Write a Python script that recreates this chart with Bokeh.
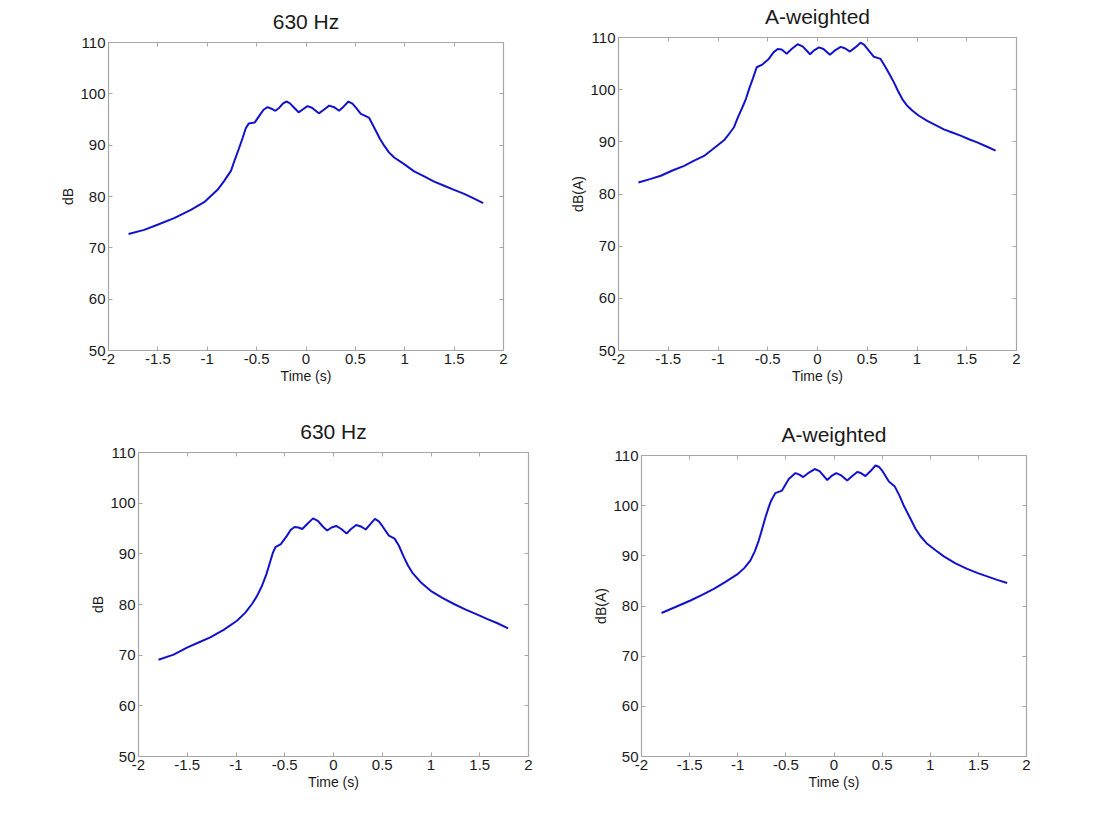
from bokeh.plotting import figure
from bokeh.layouts import column, row
from bokeh.models import LinearAxis, FixedTicker, Range1d
from bokeh.embed import file_html
from bokeh.resources import INLINE

# ---------------- data ----------------
x_ticks = [-2, -1.5, -1, -0.5, 0, 0.5, 1, 1.5, 2]
x_tick_labels = ["-2", "-1.5", "-1", "-0.5", "0", "0.5", "1", "1.5", "2"]
y_ticks = [50, 60, 70, 80, 90, 100, 110]
y_tick_labels = ["50", "60", "70", "80", "90", "100", "110"]

titles = ["630 Hz", "A-weighted", "630 Hz", "A-weighted"]
ylabels = ["dB", "dB(A)", "dB", "dB(A)"]
xlabel = "Time (s)"

# top-left: 630 Hz
t1 = [-1.797, -1.639, -1.504, -1.335, -1.166, -1.031, -0.896, -0.83, -0.76, -0.72,
      -0.68, -0.64, -0.61, -0.58, -0.52, -0.47, -0.43, -0.39, -0.35, -0.31, -0.27,
      -0.235, -0.2, -0.165, -0.12, -0.075, -0.03, 0.015, 0.06, 0.13, 0.18, 0.235,
      0.285, 0.335, 0.38, 0.43, 0.47, 0.51, 0.555, 0.6, 0.64, 0.707, 0.75, 0.792,
      0.84, 0.893, 0.994, 1.095, 1.197, 1.298, 1.399, 1.5, 1.602, 1.703, 1.794]
v1 = [72.7, 73.5, 74.5, 75.8, 77.4, 78.9, 81.3, 83.0, 85.0, 87.2,
      89.3, 91.5, 93.3, 94.2, 94.4, 95.8, 96.9, 97.4, 97.1, 96.7, 97.3,
      98.1, 98.5, 98.2, 97.3, 96.4, 97.0, 97.6, 97.3, 96.2, 96.9, 97.7,
      97.4, 96.7, 97.5, 98.5, 98.1, 97.2, 96.1, 95.7, 95.3, 92.8, 91.2, 89.9,
      88.6, 87.6, 86.3, 84.9, 83.9, 82.9, 82.1, 81.3, 80.5, 79.6, 78.7]

# top-right: A-weighted
t2 = [-1.8, -1.675, -1.575, -1.458, -1.34, -1.24, -1.14, -1.073, -1.006, -0.94,
      -0.89, -0.839, -0.8, -0.755, -0.72, -0.688, -0.648, -0.611, -0.555,
      -0.49, -0.44, -0.4, -0.36, -0.31, -0.26, -0.2, -0.15, -0.11, -0.075, -0.03,
      0.015, 0.06, 0.125, 0.18, 0.233, 0.28, 0.326, 0.38, 0.433, 0.47, 0.52, 0.567,
      0.634, 0.684, 0.728, 0.768, 0.808, 0.852, 0.902, 0.952, 1.019, 1.103, 1.187,
      1.27, 1.354, 1.438, 1.522, 1.605, 1.699, 1.79]
v2 = [82.2, 82.9, 83.5, 84.5, 85.4, 86.4, 87.3, 88.3, 89.3, 90.3,
      91.5, 92.8, 94.7, 96.6, 98.2, 100.1, 102.2, 104.3, 104.8,
      105.9, 107.2, 107.8, 107.7, 106.9, 107.8, 108.7, 108.3, 107.5, 106.8, 107.6,
      108.1, 107.8, 106.7, 107.6, 108.2, 107.9, 107.3, 108.1, 109.0, 108.6, 107.4, 106.3,
      105.9, 104.3, 102.8, 101.4, 99.8, 98.2, 96.9, 96.0, 95.0, 94.0, 93.2,
      92.4, 91.8, 91.2, 90.5, 89.9, 89.1, 88.3]

# bottom-left: 630 Hz
t3 = [-1.795, -1.64, -1.503, -1.384, -1.264, -1.127, -0.99, -0.904, -0.836, -0.784,
      -0.733, -0.688, -0.647, -0.62, -0.596, -0.54, -0.48, -0.44, -0.4,
      -0.36, -0.32, -0.27, -0.21, -0.16, -0.11, -0.065, -0.02, 0.027, 0.08, 0.134,
      0.18, 0.233, 0.28, 0.33, 0.38, 0.425, 0.465, 0.5, 0.568, 0.627, 0.671, 0.723,
      0.764, 0.808, 0.894, 0.997, 1.116, 1.236, 1.356, 1.476, 1.579, 1.682, 1.791]
v3 = [69.1, 70.1, 71.5, 72.5, 73.5, 75.0, 76.8, 78.4, 80.1, 81.7,
      83.7, 86.0, 88.6, 90.3, 91.3, 91.9, 93.5, 94.7, 95.3,
      95.2, 94.9, 95.9, 97.0, 96.5, 95.4, 94.6, 95.2, 95.5, 94.9, 94.0,
      94.9, 95.7, 95.4, 94.8, 95.9, 96.9, 96.4, 95.5, 93.6, 93.0, 91.6, 89.3,
      87.7, 86.3, 84.4, 82.7, 81.3, 80.1, 79.0, 78.0, 77.1, 76.3, 75.3]

# bottom-right: A-weighted
t4 = [-1.792, -1.647, -1.491, -1.37, -1.248, -1.127, -1.006, -0.93, -0.868, -0.823,
      -0.781, -0.746, -0.712, -0.68, -0.653, -0.61, -0.54, -0.47, -0.4,
      -0.36, -0.32, -0.26, -0.2, -0.15, -0.11, -0.07, -0.02, 0.023, 0.07, 0.137,
      0.19, 0.241, 0.28, 0.327, 0.38, 0.431, 0.47, 0.5, 0.57, 0.632, 0.68, 0.725,
      0.787, 0.847, 0.899, 0.968, 1.055, 1.141, 1.262, 1.384, 1.487, 1.591, 1.695, 1.799]
v4 = [78.6, 79.8, 81.1, 82.2, 83.4, 84.8, 86.3, 87.6, 89.1, 90.9,
      93.1, 95.4, 97.7, 99.6, 101.0, 102.5, 103.0, 105.3, 106.5,
      106.2, 105.7, 106.6, 107.3, 106.9, 106.0, 105.1, 106.0, 106.5, 106.1, 105.0,
      105.9, 106.7, 106.5, 105.9, 106.9, 108.0, 107.7, 107.0, 104.8, 103.8, 102.0, 100.0,
      97.7, 95.4, 93.9, 92.4, 91.1, 89.9, 88.5, 87.4, 86.6, 85.9, 85.2, 84.6]

# ---------------- styling ----------------
FONT = "Liberation Sans"
FRAME = "#a6a6a6"
TEXT = "#1a1a1a"
LINE = "#1212cc"


def make(title, ylabel, t, v, width, height, left, right, top, bottom):
    p = figure(width=width, height=height, x_range=Range1d(-2, 2), y_range=Range1d(50, 110),
               output_backend="svg", toolbar_location=None,
               min_border_left=left, min_border_right=right,
               min_border_top=top, min_border_bottom=bottom,
               x_axis_location=None, y_axis_location=None)
    try:
        p.frame_align = False
    except Exception:
        pass
    p.background_fill_color = "white"
    p.border_fill_color = "white"
    p.outline_line_color = FRAME
    p.outline_line_width = 1.2
    p.xgrid.visible = False
    p.ygrid.visible = False

    xo = {tk: lb for tk, lb in zip(x_ticks, x_tick_labels)}
    yo = {tk: lb for tk, lb in zip(y_ticks, y_tick_labels)}

    for loc in ["below", "left", "above", "right"]:
        ticks = x_ticks if loc in ("below", "above") else y_ticks
        ax = LinearAxis(ticker=FixedTicker(ticks=ticks))
        ax.axis_line_color = None
        ax.major_tick_line_color = FRAME
        ax.major_tick_in = 4
        ax.major_tick_out = 0
        ax.minor_tick_line_color = None
        if loc in ("below", "left"):
            ax.major_label_overrides = xo if loc == "below" else yo
            ax.major_label_text_font = FONT
            ax.major_label_text_font_size = "15px"
            ax.major_label_text_color = TEXT
            ax.major_label_standoff = 3
            ax.axis_label = xlabel if loc == "below" else ylabel
            ax.axis_label_text_font = FONT
            ax.axis_label_text_font_size = "14px"
            ax.axis_label_text_font_style = "normal"
            ax.axis_label_text_color = TEXT
            ax.axis_label_standoff = 1
        else:
            ax.major_label_overrides = {tk: "" for tk in ticks}
            ax.major_label_text_font_size = "1px"
            ax.major_label_standoff = 0
            if loc == "above":
                # the panel title, centred above the frame
                ax.axis_label = title
                ax.axis_label_text_font = FONT
                ax.axis_label_text_font_size = "21px"
                ax.axis_label_text_font_style = "normal"
                ax.axis_label_text_color = TEXT
                ax.axis_label_standoff = 10
        p.add_layout(ax, loc)

    p.line(t, v, line_color=LINE, line_width=2)
    return p


pA = make(titles[0], ylabels[0], t1, v1, 548, 408, 108, 45, 42, 58)
pB = make(titles[1], ylabels[1], t2, v2, 545, 408, 70, 77, 37, 58)
pC = make(titles[2], ylabels[2], t3, v3, 568, 390, 138, 40, 44, 42)
pD = make(titles[3], ylabels[3], t4, v4, 525, 390, 73, 67, 47, 42)

layout = column(row(pA, pB), row(pC, pD))
layout.spacing = 0

open("out.html", "w").write(file_html(layout, INLINE))
